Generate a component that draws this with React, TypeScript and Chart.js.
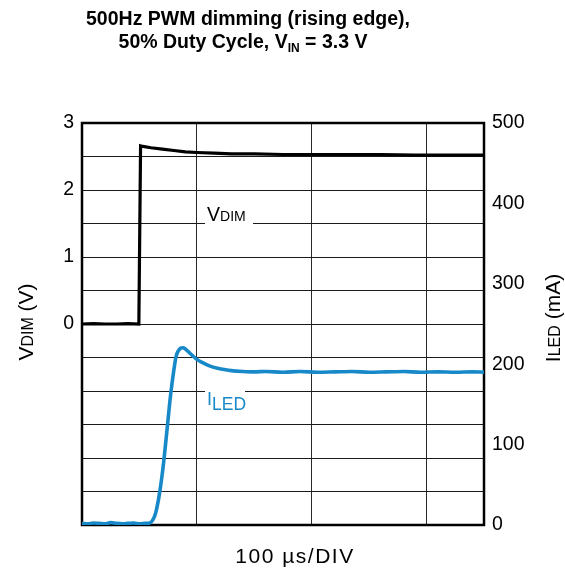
import React, { useEffect, useRef } from 'react';
import { Chart, registerables } from 'chart.js';

Chart.register(...registerables);

// ---- data (time in µs) ----
const vdimTime = [0, 10, 20, 30, 40, 49.5, 51, 53, 60, 70, 80, 90, 100, 115, 130, 150, 175, 200, 230, 260, 290, 320, 350];
const vdimValues = [0, 0.005, 0, 0, 0.005, 0, 2.66, 2.65, 2.63, 2.61, 2.59, 2.57, 2.56, 2.55, 2.54, 2.54, 2.53, 2.53, 2.53, 2.53, 2.52, 2.52, 2.52];

const iledTime = [0, 5, 10, 15, 20, 25, 30, 35, 40, 45, 50, 55, 59, 61, 63, 65, 68, 71, 74, 77, 80, 82, 84, 86, 88, 90, 93, 96, 100, 105, 111, 118, 125, 130, 140, 150, 160, 175, 190, 205, 220, 235, 250, 265, 280, 295, 310, 325, 340, 350];
const iledValues = [2, 1.5, 2.5, 2, 1.5, 3, 2, 1.5, 2, 2.5, 1.5, 2, 2.5, 5, 10, 20, 44, 77, 118, 160, 193, 210, 217, 220, 220.5, 219, 215, 211, 206, 202, 198, 195, 193, 192, 191, 190.5, 191, 190, 191, 190, 190.5, 191, 190, 190.5, 191, 190, 190.5, 190, 190.5, 190];

const leftTickLabels = [0, 1, 2, 3];
const rightTickStep = 100;
const xStep = 100;

const titleLine1 = '500Hz PWM dimming (rising edge),';
const xTitle = '100 µs/DIV';

const FONT = 'Liberation Sans, Arial, Helvetica, sans-serif';
const BLUE = '#1789c8';

type Part = { t: string; size: number; bold?: boolean; dy?: number };

function drawRich(ctx: CanvasRenderingContext2D, parts: Part[], x: number, y: number, align: 'left' | 'center') {
  let total = 0;
  const widths = parts.map((p) => {
    ctx.font = `${p.bold ? 'bold ' : ''}${p.size}px ${FONT}`;
    const w = ctx.measureText(p.t).width;
    total += w;
    return w;
  });
  let cx = align === 'center' ? x - total / 2 : x;
  ctx.textAlign = 'left';
  ctx.textBaseline = 'alphabetic';
  parts.forEach((p, i) => {
    ctx.font = `${p.bold ? 'bold ' : ''}${p.size}px ${FONT}`;
    ctx.fillText(p.t, cx, y + (p.dy || 0));
    cx += widths[i];
  });
}

const decorPlugin = {
  id: 'decor',
  beforeDatasetsDraw(chart: any) {
    const { ctx, chartArea, scales } = chart;
    const xs = scales.x;
    const ys = scales.y;
    ctx.save();
    const lx = xs.getPixelForValue(108);
    const vy = ys.getPixelForValue(1.5);
    const iy = ys.getPixelForValue(-1);
    ctx.fillStyle = '#fff';
    ctx.fillRect(lx - 1, vy - 17, 48, 21);
    ctx.fillRect(lx - 1, iy - 3, 40, 22);
    ctx.fillStyle = '#000';
    drawRich(ctx, [{ t: 'V', size: 19.5 }, { t: 'DIM', size: 14 }], lx + 1, vy - 3, 'left');
    ctx.fillStyle = BLUE;
    drawRich(ctx, [{ t: 'I', size: 18 }, { t: 'LED', size: 17.5, dy: 5 }], lx + 1, iy + 14, 'left');
    ctx.strokeStyle = '#000';
    ctx.lineWidth = 2.5;
    ctx.strokeRect(chartArea.left, chartArea.top, chartArea.right - chartArea.left, chartArea.bottom - chartArea.top);
    ctx.restore();
  },
  afterDraw(chart: any) {
    const { ctx } = chart;
    ctx.save();
    ctx.fillStyle = '#000';
    drawRich(ctx, [{ t: titleLine1, size: 19.5, bold: true }], 248, 25, 'center');
    drawRich(
      ctx,
      [
        { t: '50% Duty Cycle, V', size: 19.5, bold: true },
        { t: 'IN', size: 12, bold: true, dy: 4 },
        { t: ' = 3.3 V', size: 19.5, bold: true },
      ],
      243,
      48,
      'center'
    );
    ctx.save();
    (ctx as any).letterSpacing = '1.5px';
    drawRich(ctx, [{ t: xTitle, size: 21 }], 295, 563, 'center');
    ctx.restore();
    ctx.save();
    ctx.translate(33, 322);
    ctx.rotate(-Math.PI / 2);
    drawRich(ctx, [{ t: 'V', size: 21 }, { t: 'DIM', size: 16 }, { t: ' (V)', size: 21 }], 0, 0, 'center');
    ctx.restore();
    ctx.save();
    ctx.translate(560, 318);
    ctx.rotate(-Math.PI / 2);
    drawRich(ctx, [{ t: 'I', size: 21 }, { t: 'LED', size: 16 }, { t: ' (mA)', size: 21 }], 0, 0, 'center');
    ctx.restore();
    ctx.restore();
  },
};

export default function App() {
  const ref = useRef<HTMLCanvasElement | null>(null);
  useEffect(() => {
    if (!ref.current) return;
    Chart.defaults.font.family = FONT;
    const chart = new Chart(ref.current, {
      type: 'line',
      data: {
        datasets: [
          {
            label: 'VDIM',
            data: vdimTime.map((t, i) => ({ x: t, y: vdimValues[i] })),
            borderColor: '#000',
            borderWidth: 3.2,
            pointRadius: 0,
            tension: 0,
            yAxisID: 'y',
          },
          {
            label: 'ILED',
            data: iledTime.map((t, i) => ({ x: t, y: iledValues[i] })),
            borderColor: BLUE,
            borderWidth: 3.6,
            pointRadius: 0,
            tension: 0.3,
            cubicInterpolationMode: 'monotone',
            yAxisID: 'y1',
          },
        ],
      },
      options: {
        animation: false,
        responsive: false,
        maintainAspectRatio: false,
        layout: { padding: { top: 123, left: 0, right: 0, bottom: 0 } },
        plugins: { legend: { display: false }, tooltip: { enabled: false }, title: { display: false } },
        scales: {
          x: {
            type: 'linear',
            min: 0,
            max: 350,
            ticks: { display: false, stepSize: xStep },
            grid: { color: '#2a2a2a', lineWidth: 1, drawTicks: false },
            border: { display: false },
            afterFit: (s: any) => {
              s.height = 44;
            },
          },
          y: {
            type: 'linear',
            position: 'left',
            min: -3,
            max: 3,
            ticks: {
              stepSize: 0.5,
              padding: 8,
              color: '#000',
              font: { size: 19.5 },
              callback: (v: any) => (leftTickLabels.includes(Number(v)) ? String(v) : ''),
            },
            grid: { color: '#1a1a1a', lineWidth: 1, drawTicks: false },
            border: { display: false },
            afterFit: (s: any) => {
              s.width = 82;
            },
          },
          y1: {
            type: 'linear',
            position: 'right',
            min: 0,
            max: 500,
            ticks: { stepSize: rightTickStep, padding: 8, color: '#000', font: { size: 19.5 } },
            grid: { display: false, drawTicks: false },
            border: { display: false },
            afterFit: (s: any) => {
              s.width = 81;
            },
          },
        },
      },
      plugins: [decorPlugin],
    } as any);
    return () => chart.destroy();
  }, []);
  return (
    <div style={{ position: 'fixed', left: 0, top: 0, width: 565, height: 569, background: '#fff' }}>
      <canvas ref={ref} width={565} height={569} style={{ width: 565, height: 569 }} />
    </div>
  );
}
